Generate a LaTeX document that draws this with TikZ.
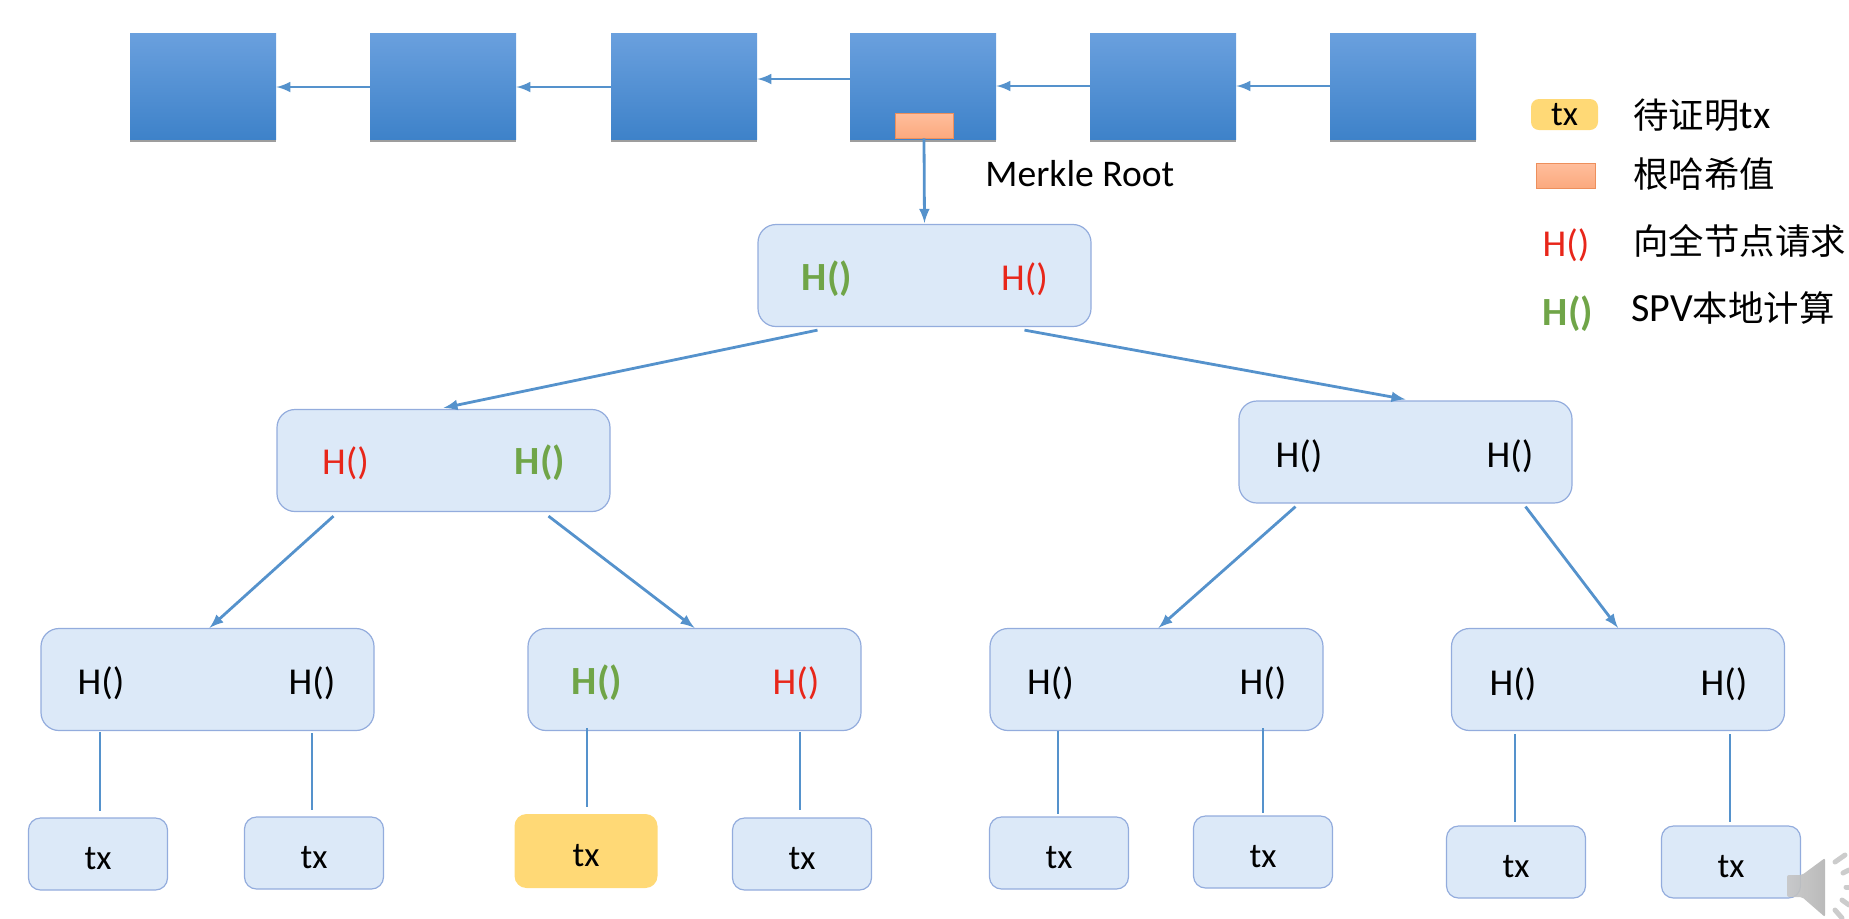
\documentclass[tikz,border=0pt]{standalone}
\usepackage{fontspec}
\setmainfont{Carlito}
\newfontfamily\cjk{Noto Sans CJK SC}
\usetikzlibrary{arrows, calc, positioning, shadows}

\definecolor{linkblue}{HTML}{5592CC}
\definecolor{boxfill}{HTML}{DCE9F8}
\definecolor{boxline}{HTML}{93ACDD}
\definecolor{txyellow}{HTML}{FFD976}
\definecolor{hgreen}{HTML}{70A548}
\definecolor{hred}{HTML}{E8261A}
\definecolor{blockTop}{HTML}{6AA0DE}
\definecolor{blockBottom}{HTML}{3E82C9}
\definecolor{rootTop}{HTML}{FFBE9C}
\definecolor{rootBottom}{HTML}{FBA97E}
\definecolor{rootLine}{HTML}{ED8F5C}

\tikzset{
	blockbox/.style={minimum width=73pt, minimum height=53pt, inner sep=0pt, top color=blockTop, bottom color=blockBottom, drop shadow={shadow xshift=0pt, shadow yshift=-1.5pt, opacity=.55, fill=black!70}},
	hashbox/.style={draw=boxline, line width=.6pt, fill=boxfill, rounded corners=9pt, minimum width=166.5pt, minimum height=51pt, inner sep=0pt},
	leafbox/.style={draw=boxline, line width=.6pt, fill=boxfill, rounded corners=6pt, minimum width=69.5pt, minimum height=36pt, inner sep=0pt, text height=15.5pt, text depth=0pt, font=\fontsize{17.5}{20}\selectfont},
	rootbox/.style={draw=rootLine, top color=rootTop, bottom color=rootBottom, inner sep=0pt},
	hplain/.style={font=\fontsize{19}{20}\selectfont, inner sep=0pt},
	hreq/.style={hplain, text=hred},
	hcalc/.style={font=\fontsize{20}{20}\selectfont\bfseries, text=hgreen, inner sep=0pt},
	legendtext/.style={anchor=west, inner sep=0pt, font=\fontsize{20}{20}\selectfont},
	arrowline/.style={draw=linkblue, line width=1.4pt, -latex},
	stemline/.style={draw=linkblue, line width=1.4pt},
	speakerbit/.style={draw=gray!40, line width=2.5pt, line cap=round}
}

\begin{document}
\begin{tikzpicture}[x=0.5pt, y=-0.5pt]
	\useasboundingbox (0,0) rectangle (1849,918);

	% chain
	\node[blockbox] (block1) at (203,86) {};
	\node[blockbox] (block2) at (443,86) {};
	\node[blockbox] (block3) at (684,86) {};
	\node[blockbox] (block4) at (923,86) {};
	\node[blockbox] (block5) at (1163,86) {};
	\node[blockbox] (block6) at (1403,86) {};
	\draw[arrowline] ([yshift=-.5pt]block2.west) -- ([yshift=-.5pt]block1.east);
	\draw[arrowline] ([yshift=-.5pt]block3.west) -- ([yshift=-.5pt]block2.east);
	\draw[arrowline] ([yshift=3.5pt]block4.west) -- ([yshift=3.5pt]block3.east);
	\draw[arrowline] (block5.west) -- (block4.east);
	\draw[arrowline] (block6.west) -- (block5.east);
	\node[rootbox, minimum width=29pt, minimum height=12.5pt] (merkle) at (924,125.5) {};
	\node[anchor=west, inner sep=0pt, font=\fontsize{18.8}{20}\selectfont] (merkletext) at (985,174) {Merkle Root};

	% tree
	\node[hashbox] (root) at (924.5,275.5) {};
	\node[hashbox] (left) at (443.5,460.5) {};
	\node[hashbox] (right) at (1405.5,452) {};
	\node[hashbox] (pairA) at (207.5,679.5) {};
	\node[hashbox] (pairB) at (694.5,679.5) {};
	\node[hashbox] (pairC) at (1156.5,679.5) {};
	\node[hashbox] (pairD) at (1618,679.5) {};

	\node[hcalc] (rootH1) at (827,279) {H()};
	\node[hreq] (rootH2) at (1024.5,279) {H()};
	\node[hreq] (leftH1) at (345.5,463) {H()};
	\node[hcalc] (leftH2) at (540,463) {H()};
	\node[hplain] (rightH1) at (1299,456) {H()};
	\node[hplain] (rightH2) at (1510,456) {H()};
	\node[hplain] (pairAH1) at (101,683) {H()};
	\node[hplain] (pairAH2) at (312,683) {H()};
	\node[hcalc] (pairBH1) at (597,683) {H()};
	\node[hreq] (pairBH2) at (796,683) {H()};
	\node[hplain] (pairCH1) at (1050.5,683) {H()};
	\node[hplain] (pairCH2) at (1263,683) {H()};
	\node[hplain] (pairDH1) at (1513,684) {H()};
	\node[hplain] (pairDH2) at (1724,684) {H()};

	% transactions
	\node[leafbox] (tx1) at (98,854) {tx};
	\node[leafbox] (tx2) at (314,853) {tx};
	\node[leafbox, fill=txyellow, draw=none, minimum width=71.5pt, minimum height=37pt] (tx3) at (586,851) {tx};
	\node[leafbox] (tx4) at (802,854) {tx};
	\node[leafbox] (tx5) at (1059,853) {tx};
	\node[leafbox] (tx6) at (1263,852) {tx};
	\node[leafbox] (tx7) at (1516,862) {tx};
	\node[leafbox] (tx8) at (1731,862) {tx};

	\draw[arrowline, shorten >=.5pt] (merkle.south) -- (root.north);
	\draw[arrowline] ([xshift=-53.5pt, yshift=-1.5pt]root.south) -- ([yshift=.5pt]left.north);
	\draw[arrowline] ([xshift=50pt, yshift=-1.5pt]root.south) -- ([yshift=.5pt]right.north);
	\draw[arrowline] ([xshift=-55pt, yshift=-2pt]left.south) -- ([xshift=1pt]pairA.north);
	\draw[arrowline] ([xshift=52.5pt, yshift=-2pt]left.south) -- (pairB.north);
	\draw[arrowline] ([xshift=-55pt, yshift=-1.5pt]right.south) -- ([xshift=1pt]pairC.north);
	\draw[arrowline] ([xshift=60pt, yshift=-1.5pt]right.south) -- (pairD.north);

	\draw[stemline] ([xshift=1pt]tx1.north |- pairA.south) ++(0,1) -- ([xshift=1pt,yshift=3pt]tx1.north);
	\draw[stemline] ([xshift=-1pt]tx2.north |- pairA.south) ++(0,2) -- ([xshift=-1pt,yshift=3pt]tx2.north);
	\draw[stemline] ([xshift=.5pt]tx3.north |- pairB.south) ++(0,-3) -- ([xshift=.5pt,yshift=3pt]tx3.north);
	\draw[stemline] ([xshift=-1pt]tx4.north |- pairB.south) ++(0,1) -- ([xshift=-1pt,yshift=3.5pt]tx4.north);
	\draw[stemline] ([xshift=-.5pt]tx5.north |- pairC.south) ++(0,0) -- ([xshift=-.5pt,yshift=1pt]tx5.north);
	\draw[stemline] (tx6.north |- pairC.south) ++(0,-3) -- ([yshift=1pt]tx6.north);
	\draw[stemline] ([xshift=-.5pt]tx7.north |- pairD.south) ++(0,3) -- ([xshift=-.5pt,yshift=1.5pt]tx7.north);
	\draw[stemline] ([xshift=-.5pt]tx8.north |- pairD.south) ++(0,3) -- ([xshift=-.5pt,yshift=1.5pt]tx8.north);

	% legend
	\node[fill=txyellow, rounded corners=4pt, minimum width=33.5pt, minimum height=15.5pt, inner sep=0pt, font=\fontsize{17.5}{20}\selectfont] (keytx) at (1564.5,114.5) {tx};
	\node[rootbox, minimum width=29.5pt, minimum height=12.5pt] (keyroot) at (1565.5,175.5) {};
	\node[hreq] (keyreq) at (1566,245) {H()};
	\node[hcalc] (keycalc) at (1568,314) {H()};
	\node[legendtext] (keytxt1) at (1633,115) {{\cjk\fontsize{17.7}{20}\selectfont 待证明}tx};
	\node[legendtext] (keytxt2) at (1633,174) {\cjk\fontsize{17.7}{20}\selectfont 根哈希值};
	\node[legendtext] (keytxt3) at (1633,241) {\cjk\fontsize{17.7}{20}\selectfont 向全节点请求};
	\node[legendtext] (keytxt4) at (1631,308) {SPV{\cjk\fontsize{17.7}{20}\selectfont 本地计算}};

	% speaker
	\shade[left color=gray!45, right color=gray!60, opacity=.9, rounded corners=1pt] (1787,875) -- (1802,875) -- (1825,858) -- (1825,917) -- (1802,897) -- (1787,897) -- cycle;
	\draw[speakerbit] (1835,862) -- (1845,855);
	\draw[speakerbit] (1843,873) -- (1849,870);
	\draw[speakerbit] (1846,887) -- (1849,887);
	\draw[speakerbit] (1842,900) -- (1849,905);
	\draw[speakerbit] (1835,910) -- (1842,918);
\end{tikzpicture}
\end{document}
